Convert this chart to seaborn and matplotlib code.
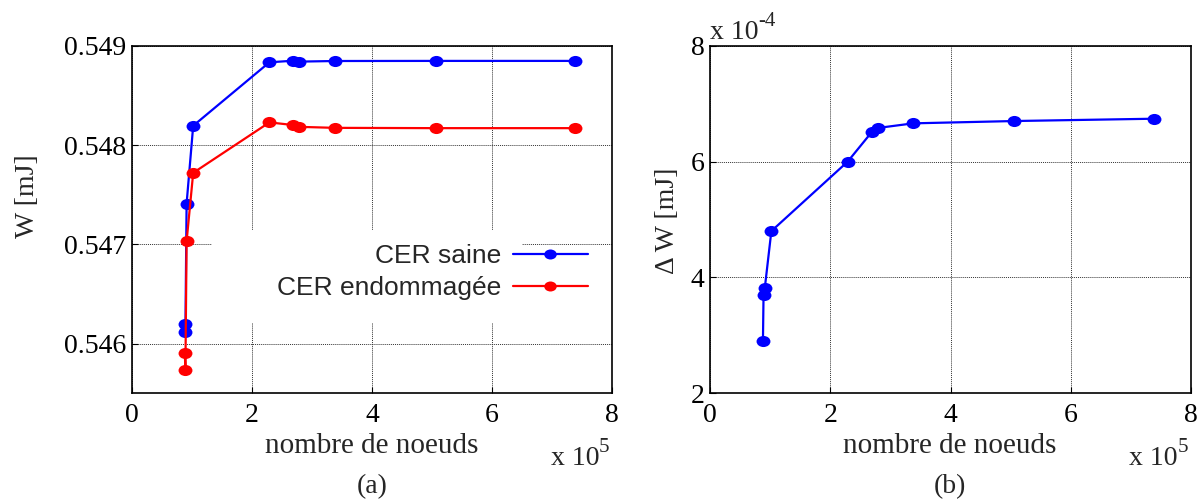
import numpy as np
import pandas as pd
import matplotlib
matplotlib.use("Agg")
import matplotlib.pyplot as plt
from matplotlib.path import Path
from matplotlib.patches import Rectangle
from matplotlib.ticker import FormatStrFormatter
from matplotlib.transforms import Affine2D
import seaborn as sns

# Data (x in units of 1e5 nodes, delta W in units of 1e-4 mJ)
noeuds = [0.88, 0.89, 0.91, 1.02, 2.29, 2.69, 2.79, 3.38, 5.06, 7.39]
w_saine = [0.546202, 0.546117, 0.547411, 0.548194, 0.548833, 0.548849,
           0.548840, 0.548846, 0.548847, 0.548847]
w_endommagee = [0.545909, 0.545738, 0.547031, 0.547720, 0.548228, 0.548201,
                0.548183, 0.548173, 0.548170, 0.548170]
delta_w = [2.90, 3.70, 3.81, 4.80, 6.00, 6.51, 6.58, 6.66, 6.70, 6.74]

labels = ["CER saine", "CER endommagée"]
x_ticks = [0, 2, 4, 6, 8]
w_ticks = [0.546, 0.547, 0.548, 0.549]
dw_ticks = [2, 4, 6, 8]

sns.set_style("ticks")
plt.rcParams["font.family"] = ["Liberation Serif", "DejaVu Serif"]

# slightly flattened dots, like the stretched original
ellipse = Path.unit_circle().transformed(Affine2D().scale(1.25, 1.0))

fig = plt.figure(figsize=(12, 5.04), dpi=100)
ax1 = fig.add_axes([0.110, 0.2196, 0.400, 0.6897])
ax2 = fig.add_axes([0.5917, 0.2196, 0.4008, 0.6897])

df = pd.DataFrame({"noeuds": noeuds, "saine": w_saine,
                   "endom": w_endommagee, "dw": delta_w})

style = dict(marker=ellipse, markersize=10, markeredgewidth=0, linewidth=1.6,
             sort=False, estimator=None)
sns.lineplot(data=df, x="noeuds", y="saine", ax=ax1, color="#0000ff",
             label=labels[0], **style)
sns.lineplot(data=df, x="noeuds", y="endom", ax=ax1, color="#ff0000",
             label=labels[1], **style)
sns.lineplot(data=df, x="noeuds", y="dw", ax=ax2, color="#0000ff", **style)


def power_label(ax, x, y, exponent):
    """Write 'x 10' with a raised exponent, MATLAB style."""
    base = ax.text(x, y, "x 10", transform=ax.transAxes, ha="left",
                   va="baseline", fontsize=20)
    ax.annotate(exponent, xy=(1.0, 0.55), xycoords=base, ha="left",
                va="bottom", fontsize=15)


for ax in (ax1, ax2):
    ax.set_xlim(0, 8)
    ax.set_xticks(x_ticks)
    ax.set_xlabel("")
    ax.set_ylabel("")
    ax.grid(True, color="#333333", linestyle=(0, (1, 1)), linewidth=0.7)
    ax.tick_params(direction="in", length=4, width=0.8, labelsize=20,
                   colors="black")
    ax.tick_params(axis="x", pad=7)
    ax.tick_params(axis="y", pad=4)
    for s in ax.spines.values():
        s.set_color("black")
        s.set_linewidth(1.2)
    power_label(ax, 0.872, -0.206, "5")

ax1.set_ylim(0.5455, 0.549)
ax1.set_yticks(w_ticks)
ax1.yaxis.set_major_formatter(FormatStrFormatter("%.3f"))
ax2.set_ylim(2, 8)
ax2.set_yticks(dw_ticks)
ax2.yaxis.set_major_formatter(FormatStrFormatter("%d"))
power_label(ax2, 0.0, 1.019, "-4")

# white patch behind the legend text, hiding the grid there
ax1.add_patch(Rectangle((0.167, 0.202), 0.646, 0.268, transform=ax1.transAxes,
                        facecolor="white", edgecolor="none", zorder=1.6))
ax1.legend(loc="upper right", bbox_to_anchor=(0.95, 0.43), frameon=False,
           markerfirst=False, handlelength=2.85, handletextpad=0.42,
           labelspacing=0.3, borderpad=0, borderaxespad=0, markerscale=0.9,
           prop={"family": "Liberation Sans", "size": 19})

fig.text(27 / 1200, 1 - 196 / 504, "W [mJ]", rotation=90, ha="center",
         va="center", fontsize=20)
fig.text(668 / 1200, 1 - 221 / 504, "Δ W [mJ]", rotation=90, ha="center",
         va="center", fontsize=20)
fig.text(372 / 1200, 1 - 446 / 504, "nombre de noeuds", ha="center",
         va="center", fontsize=21)
fig.text(950 / 1200, 1 - 446 / 504, "nombre de noeuds", ha="center",
         va="center", fontsize=21)
fig.text(372 / 1200, 1 - 487 / 504, "(a)", ha="center", va="center",
         fontsize=20)
fig.text(950 / 1200, 1 - 487 / 504, "(b)", ha="center", va="center",
         fontsize=20)

fig.savefig("out.png", dpi=100)
